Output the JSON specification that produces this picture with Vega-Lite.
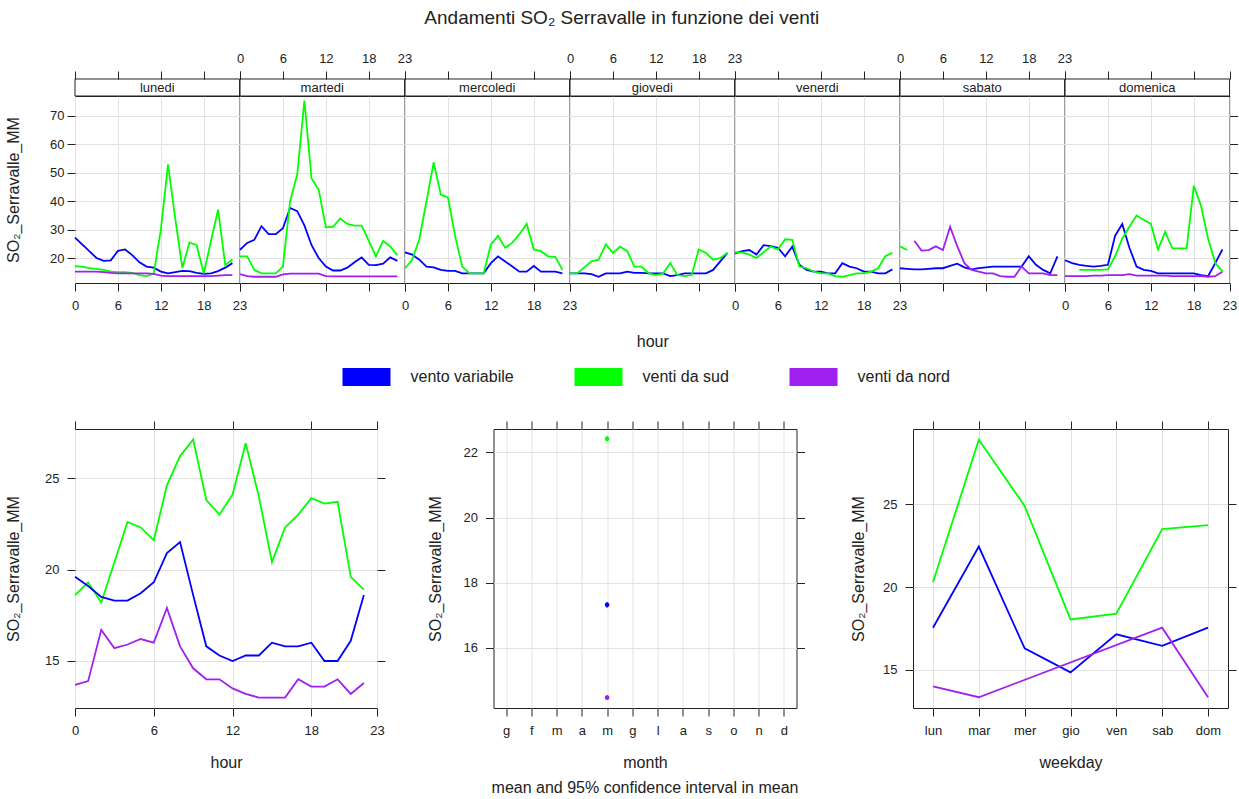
{
  "$schema": "https://vega.github.io/schema/vega-lite/v6.json",
  "background": "white",
  "padding": {"left": 5, "top": 8, "right": 2, "bottom": 2},
  "title": {"text": "Andamenti SO₂ Serravalle in funzione dei venti", "fontSize": 19, "fontWeight": "normal", "font": "Liberation Sans", "color": "#222", "offset": 24, "anchor": "middle"},
  "config": {
    "font": "Liberation Sans",
    "view": {"stroke": "#222", "strokeWidth": 1},
    "axis": {"labelFont": "Liberation Sans", "labelFontSize": 13, "labelColor": "#222", "titleFont": "Liberation Sans", "titleFontSize": 16, "titleFontWeight": "normal", "titleColor": "#222", "tickColor": "#222", "tickSize": 8, "domain": false, "gridColor": "#e2e2e2", "labelFlush": false, "labelOverlap": false, "labelBound": false}
  },
  "datasets": {
    "hourday": [
      {"day":"lunedi","hour":0,"series":"vento variabile","value":27.2},{"day":"lunedi","hour":1,"series":"vento variabile","value":24.8},{"day":"lunedi","hour":2,"series":"vento variabile","value":22.4},{"day":"lunedi","hour":3,"series":"vento variabile","value":20.0},{"day":"lunedi","hour":4,"series":"vento variabile","value":19.0},{"day":"lunedi","hour":5,"series":"vento variabile","value":19.2},{"day":"lunedi","hour":6,"series":"vento variabile","value":22.5},{"day":"lunedi","hour":7,"series":"vento variabile","value":23.0},{"day":"lunedi","hour":8,"series":"vento variabile","value":21.0},{"day":"lunedi","hour":9,"series":"vento variabile","value":18.5},{"day":"lunedi","hour":10,"series":"vento variabile","value":17.0},{"day":"lunedi","hour":11,"series":"vento variabile","value":16.6},{"day":"lunedi","hour":12,"series":"vento variabile","value":15.2},{"day":"lunedi","hour":13,"series":"vento variabile","value":14.6},{"day":"lunedi","hour":14,"series":"vento variabile","value":15.0},{"day":"lunedi","hour":15,"series":"vento variabile","value":15.5},{"day":"lunedi","hour":16,"series":"vento variabile","value":15.4},{"day":"lunedi","hour":17,"series":"vento variabile","value":14.8},{"day":"lunedi","hour":18,"series":"vento variabile","value":14.4},{"day":"lunedi","hour":19,"series":"vento variabile","value":14.6},{"day":"lunedi","hour":20,"series":"vento variabile","value":15.4},{"day":"lunedi","hour":21,"series":"vento variabile","value":16.6},{"day":"lunedi","hour":22,"series":"vento variabile","value":18.2},
      {"day":"lunedi","hour":0,"series":"venti da sud","value":17.1},{"day":"lunedi","hour":1,"series":"venti da sud","value":17.0},{"day":"lunedi","hour":2,"series":"venti da sud","value":16.4},{"day":"lunedi","hour":3,"series":"venti da sud","value":16.2},{"day":"lunedi","hour":4,"series":"venti da sud","value":15.8},{"day":"lunedi","hour":5,"series":"venti da sud","value":15.2},{"day":"lunedi","hour":6,"series":"venti da sud","value":15.0},{"day":"lunedi","hour":7,"series":"venti da sud","value":15.0},{"day":"lunedi","hour":8,"series":"venti da sud","value":14.8},{"day":"lunedi","hour":9,"series":"venti da sud","value":14.0},{"day":"lunedi","hour":10,"series":"venti da sud","value":13.6},{"day":"lunedi","hour":11,"series":"venti da sud","value":14.5},{"day":"lunedi","hour":12,"series":"venti da sud","value":30.0},{"day":"lunedi","hour":13,"series":"venti da sud","value":53.0},{"day":"lunedi","hour":14,"series":"venti da sud","value":34.0},{"day":"lunedi","hour":15,"series":"venti da sud","value":16.5},{"day":"lunedi","hour":16,"series":"venti da sud","value":25.5},{"day":"lunedi","hour":17,"series":"venti da sud","value":24.5},{"day":"lunedi","hour":18,"series":"venti da sud","value":14.5},{"day":"lunedi","hour":19,"series":"venti da sud","value":26.0},{"day":"lunedi","hour":20,"series":"venti da sud","value":37.0},{"day":"lunedi","hour":21,"series":"venti da sud","value":17.5},{"day":"lunedi","hour":22,"series":"venti da sud","value":19.5},
      {"day":"lunedi","hour":0,"series":"venti da nord","value":15.2},{"day":"lunedi","hour":1,"series":"venti da nord","value":15.2},{"day":"lunedi","hour":2,"series":"venti da nord","value":15.2},{"day":"lunedi","hour":3,"series":"venti da nord","value":15.2},{"day":"lunedi","hour":4,"series":"venti da nord","value":15.0},{"day":"lunedi","hour":5,"series":"venti da nord","value":14.8},{"day":"lunedi","hour":6,"series":"venti da nord","value":14.6},{"day":"lunedi","hour":7,"series":"venti da nord","value":14.6},{"day":"lunedi","hour":8,"series":"venti da nord","value":14.6},{"day":"lunedi","hour":9,"series":"venti da nord","value":14.6},{"day":"lunedi","hour":10,"series":"venti da nord","value":14.6},{"day":"lunedi","hour":11,"series":"venti da nord","value":14.4},{"day":"lunedi","hour":12,"series":"venti da nord","value":13.8},{"day":"lunedi","hour":13,"series":"venti da nord","value":13.6},{"day":"lunedi","hour":14,"series":"venti da nord","value":13.6},{"day":"lunedi","hour":15,"series":"venti da nord","value":13.6},{"day":"lunedi","hour":16,"series":"venti da nord","value":13.6},{"day":"lunedi","hour":17,"series":"venti da nord","value":13.6},{"day":"lunedi","hour":18,"series":"venti da nord","value":13.6},{"day":"lunedi","hour":19,"series":"venti da nord","value":13.6},{"day":"lunedi","hour":20,"series":"venti da nord","value":13.8},{"day":"lunedi","hour":21,"series":"venti da nord","value":14.0},{"day":"lunedi","hour":22,"series":"venti da nord","value":14.0},
      {"day":"martedi","hour":0,"series":"vento variabile","value":22.9},{"day":"martedi","hour":1,"series":"vento variabile","value":25.3},{"day":"martedi","hour":2,"series":"vento variabile","value":26.4},{"day":"martedi","hour":3,"series":"vento variabile","value":31.2},{"day":"martedi","hour":4,"series":"vento variabile","value":28.4},{"day":"martedi","hour":5,"series":"vento variabile","value":28.4},{"day":"martedi","hour":6,"series":"vento variabile","value":30.5},{"day":"martedi","hour":7,"series":"vento variabile","value":37.6},{"day":"martedi","hour":8,"series":"vento variabile","value":36.5},{"day":"martedi","hour":9,"series":"vento variabile","value":31.5},{"day":"martedi","hour":10,"series":"vento variabile","value":24.5},{"day":"martedi","hour":11,"series":"vento variabile","value":20.0},{"day":"martedi","hour":12,"series":"vento variabile","value":17.0},{"day":"martedi","hour":13,"series":"vento variabile","value":15.6},{"day":"martedi","hour":14,"series":"vento variabile","value":15.6},{"day":"martedi","hour":15,"series":"vento variabile","value":16.6},{"day":"martedi","hour":16,"series":"vento variabile","value":18.5},{"day":"martedi","hour":17,"series":"vento variabile","value":20.2},{"day":"martedi","hour":18,"series":"vento variabile","value":17.6},{"day":"martedi","hour":19,"series":"vento variabile","value":17.5},{"day":"martedi","hour":20,"series":"vento variabile","value":18.0},{"day":"martedi","hour":21,"series":"vento variabile","value":20.2},{"day":"martedi","hour":22,"series":"vento variabile","value":19.0},
      {"day":"martedi","hour":0,"series":"venti da sud","value":20.6},{"day":"martedi","hour":1,"series":"venti da sud","value":20.6},{"day":"martedi","hour":2,"series":"venti da sud","value":15.8},{"day":"martedi","hour":3,"series":"venti da sud","value":14.6},{"day":"martedi","hour":4,"series":"venti da sud","value":14.6},{"day":"martedi","hour":5,"series":"venti da sud","value":14.6},{"day":"martedi","hour":6,"series":"venti da sud","value":17.0},{"day":"martedi","hour":7,"series":"venti da sud","value":40.0},{"day":"martedi","hour":8,"series":"venti da sud","value":49.5},{"day":"martedi","hour":9,"series":"venti da sud","value":75.4},{"day":"martedi","hour":10,"series":"venti da sud","value":48.0},{"day":"martedi","hour":11,"series":"venti da sud","value":44.0},{"day":"martedi","hour":12,"series":"venti da sud","value":30.8},{"day":"martedi","hour":13,"series":"venti da sud","value":31.0},{"day":"martedi","hour":14,"series":"venti da sud","value":33.9},{"day":"martedi","hour":15,"series":"venti da sud","value":32.0},{"day":"martedi","hour":16,"series":"venti da sud","value":31.4},{"day":"martedi","hour":17,"series":"venti da sud","value":31.4},{"day":"martedi","hour":18,"series":"venti da sud","value":26.0},{"day":"martedi","hour":19,"series":"venti da sud","value":20.6},{"day":"martedi","hour":20,"series":"venti da sud","value":26.0},{"day":"martedi","hour":21,"series":"venti da sud","value":24.0},{"day":"martedi","hour":22,"series":"venti da sud","value":21.0},
      {"day":"martedi","hour":0,"series":"venti da nord","value":14.3},{"day":"martedi","hour":1,"series":"venti da nord","value":13.6},{"day":"martedi","hour":2,"series":"venti da nord","value":13.4},{"day":"martedi","hour":3,"series":"venti da nord","value":13.4},{"day":"martedi","hour":4,"series":"venti da nord","value":13.4},{"day":"martedi","hour":5,"series":"venti da nord","value":13.4},{"day":"martedi","hour":6,"series":"venti da nord","value":14.2},{"day":"martedi","hour":7,"series":"venti da nord","value":14.5},{"day":"martedi","hour":8,"series":"venti da nord","value":14.5},{"day":"martedi","hour":9,"series":"venti da nord","value":14.5},{"day":"martedi","hour":10,"series":"venti da nord","value":14.5},{"day":"martedi","hour":11,"series":"venti da nord","value":14.5},{"day":"martedi","hour":12,"series":"venti da nord","value":13.6},{"day":"martedi","hour":13,"series":"venti da nord","value":13.5},{"day":"martedi","hour":14,"series":"venti da nord","value":13.5},{"day":"martedi","hour":15,"series":"venti da nord","value":13.5},{"day":"martedi","hour":16,"series":"venti da nord","value":13.5},{"day":"martedi","hour":17,"series":"venti da nord","value":13.5},{"day":"martedi","hour":18,"series":"venti da nord","value":13.5},{"day":"martedi","hour":19,"series":"venti da nord","value":13.5},{"day":"martedi","hour":20,"series":"venti da nord","value":13.5},{"day":"martedi","hour":21,"series":"venti da nord","value":13.5},{"day":"martedi","hour":22,"series":"venti da nord","value":13.5},
      {"day":"mercoledi","hour":0,"series":"vento variabile","value":22.0},{"day":"mercoledi","hour":1,"series":"vento variabile","value":21.2},{"day":"mercoledi","hour":2,"series":"vento variabile","value":19.4},{"day":"mercoledi","hour":3,"series":"vento variabile","value":17.0},{"day":"mercoledi","hour":4,"series":"vento variabile","value":16.7},{"day":"mercoledi","hour":5,"series":"vento variabile","value":15.8},{"day":"mercoledi","hour":6,"series":"vento variabile","value":15.5},{"day":"mercoledi","hour":7,"series":"vento variabile","value":15.5},{"day":"mercoledi","hour":8,"series":"vento variabile","value":14.6},{"day":"mercoledi","hour":9,"series":"vento variabile","value":14.6},{"day":"mercoledi","hour":10,"series":"vento variabile","value":14.6},{"day":"mercoledi","hour":11,"series":"vento variabile","value":14.6},{"day":"mercoledi","hour":12,"series":"vento variabile","value":18.2},{"day":"mercoledi","hour":13,"series":"vento variabile","value":20.6},{"day":"mercoledi","hour":14,"series":"vento variabile","value":18.8},{"day":"mercoledi","hour":15,"series":"vento variabile","value":17.0},{"day":"mercoledi","hour":16,"series":"vento variabile","value":15.2},{"day":"mercoledi","hour":17,"series":"vento variabile","value":15.2},{"day":"mercoledi","hour":18,"series":"vento variabile","value":17.2},{"day":"mercoledi","hour":19,"series":"vento variabile","value":15.2},{"day":"mercoledi","hour":20,"series":"vento variabile","value":15.2},{"day":"mercoledi","hour":21,"series":"vento variabile","value":15.2},{"day":"mercoledi","hour":22,"series":"vento variabile","value":14.6},
      {"day":"mercoledi","hour":0,"series":"venti da sud","value":16.4},{"day":"mercoledi","hour":1,"series":"venti da sud","value":19.4},{"day":"mercoledi","hour":2,"series":"venti da sud","value":26.6},{"day":"mercoledi","hour":3,"series":"venti da sud","value":39.9},{"day":"mercoledi","hour":4,"series":"venti da sud","value":53.7},{"day":"mercoledi","hour":5,"series":"venti da sud","value":42.3},{"day":"mercoledi","hour":6,"series":"venti da sud","value":41.3},{"day":"mercoledi","hour":7,"series":"venti da sud","value":27.8},{"day":"mercoledi","hour":8,"series":"venti da sud","value":17.0},{"day":"mercoledi","hour":9,"series":"venti da sud","value":14.6},{"day":"mercoledi","hour":10,"series":"venti da sud","value":14.6},{"day":"mercoledi","hour":11,"series":"venti da sud","value":14.6},{"day":"mercoledi","hour":12,"series":"venti da sud","value":24.8},{"day":"mercoledi","hour":13,"series":"venti da sud","value":27.8},{"day":"mercoledi","hour":14,"series":"venti da sud","value":23.6},{"day":"mercoledi","hour":15,"series":"venti da sud","value":25.4},{"day":"mercoledi","hour":16,"series":"venti da sud","value":28.4},{"day":"mercoledi","hour":17,"series":"venti da sud","value":32.0},{"day":"mercoledi","hour":18,"series":"venti da sud","value":23.0},{"day":"mercoledi","hour":19,"series":"venti da sud","value":22.4},{"day":"mercoledi","hour":20,"series":"venti da sud","value":20.6},{"day":"mercoledi","hour":21,"series":"venti da sud","value":20.4},{"day":"mercoledi","hour":22,"series":"venti da sud","value":15.8},
      {"day":"giovedi","hour":0,"series":"vento variabile","value":14.6},{"day":"giovedi","hour":1,"series":"vento variabile","value":14.6},{"day":"giovedi","hour":2,"series":"vento variabile","value":14.6},{"day":"giovedi","hour":3,"series":"vento variabile","value":14.3},{"day":"giovedi","hour":4,"series":"vento variabile","value":13.4},{"day":"giovedi","hour":5,"series":"vento variabile","value":14.6},{"day":"giovedi","hour":6,"series":"vento variabile","value":14.6},{"day":"giovedi","hour":7,"series":"vento variabile","value":14.6},{"day":"giovedi","hour":8,"series":"vento variabile","value":15.2},{"day":"giovedi","hour":9,"series":"vento variabile","value":14.8},{"day":"giovedi","hour":10,"series":"vento variabile","value":14.8},{"day":"giovedi","hour":11,"series":"vento variabile","value":14.6},{"day":"giovedi","hour":12,"series":"vento variabile","value":14.6},{"day":"giovedi","hour":13,"series":"vento variabile","value":14.6},{"day":"giovedi","hour":14,"series":"vento variabile","value":13.6},{"day":"giovedi","hour":15,"series":"vento variabile","value":14.0},{"day":"giovedi","hour":16,"series":"vento variabile","value":14.6},{"day":"giovedi","hour":17,"series":"vento variabile","value":14.6},{"day":"giovedi","hour":18,"series":"vento variabile","value":14.6},{"day":"giovedi","hour":19,"series":"vento variabile","value":14.6},{"day":"giovedi","hour":20,"series":"vento variabile","value":15.8},{"day":"giovedi","hour":21,"series":"vento variabile","value":18.8},{"day":"giovedi","hour":22,"series":"vento variabile","value":21.8},
      {"day":"giovedi","hour":0,"series":"venti da sud","value":14.6},{"day":"giovedi","hour":1,"series":"venti da sud","value":14.6},{"day":"giovedi","hour":2,"series":"venti da sud","value":16.7},{"day":"giovedi","hour":3,"series":"venti da sud","value":18.8},{"day":"giovedi","hour":4,"series":"venti da sud","value":19.4},{"day":"giovedi","hour":5,"series":"venti da sud","value":24.8},{"day":"giovedi","hour":6,"series":"venti da sud","value":21.8},{"day":"giovedi","hour":7,"series":"venti da sud","value":24.0},{"day":"giovedi","hour":8,"series":"venti da sud","value":22.4},{"day":"giovedi","hour":9,"series":"venti da sud","value":17.0},{"day":"giovedi","hour":10,"series":"venti da sud","value":17.0},{"day":"giovedi","hour":11,"series":"venti da sud","value":14.6},{"day":"giovedi","hour":12,"series":"venti da sud","value":14.0},{"day":"giovedi","hour":13,"series":"venti da sud","value":14.5},{"day":"giovedi","hour":14,"series":"venti da sud","value":18.2},{"day":"giovedi","hour":15,"series":"venti da sud","value":14.0},{"day":"giovedi","hour":16,"series":"venti da sud","value":13.6},{"day":"giovedi","hour":17,"series":"venti da sud","value":14.0},{"day":"giovedi","hour":18,"series":"venti da sud","value":23.0},{"day":"giovedi","hour":19,"series":"venti da sud","value":21.8},{"day":"giovedi","hour":20,"series":"venti da sud","value":19.4},{"day":"giovedi","hour":21,"series":"venti da sud","value":20.0},{"day":"giovedi","hour":22,"series":"venti da sud","value":21.8},
      {"day":"venerdi","hour":0,"series":"vento variabile","value":21.6},{"day":"venerdi","hour":1,"series":"vento variabile","value":22.4},{"day":"venerdi","hour":2,"series":"vento variabile","value":22.8},{"day":"venerdi","hour":3,"series":"vento variabile","value":21.2},{"day":"venerdi","hour":4,"series":"vento variabile","value":24.5},{"day":"venerdi","hour":5,"series":"vento variabile","value":24.2},{"day":"venerdi","hour":6,"series":"vento variabile","value":23.6},{"day":"venerdi","hour":7,"series":"vento variabile","value":20.6},{"day":"venerdi","hour":8,"series":"vento variabile","value":24.0},{"day":"venerdi","hour":9,"series":"vento variabile","value":17.6},{"day":"venerdi","hour":10,"series":"vento variabile","value":15.8},{"day":"venerdi","hour":11,"series":"vento variabile","value":15.2},{"day":"venerdi","hour":12,"series":"vento variabile","value":15.2},{"day":"venerdi","hour":13,"series":"vento variabile","value":14.6},{"day":"venerdi","hour":14,"series":"vento variabile","value":14.6},{"day":"venerdi","hour":15,"series":"vento variabile","value":18.2},{"day":"venerdi","hour":16,"series":"vento variabile","value":17.0},{"day":"venerdi","hour":17,"series":"vento variabile","value":16.4},{"day":"venerdi","hour":18,"series":"vento variabile","value":15.2},{"day":"venerdi","hour":19,"series":"vento variabile","value":15.2},{"day":"venerdi","hour":20,"series":"vento variabile","value":14.6},{"day":"venerdi","hour":21,"series":"vento variabile","value":14.6},{"day":"venerdi","hour":22,"series":"vento variabile","value":16.0},
      {"day":"venerdi","hour":0,"series":"venti da sud","value":22.0},{"day":"venerdi","hour":1,"series":"venti da sud","value":22.0},{"day":"venerdi","hour":2,"series":"venti da sud","value":21.2},{"day":"venerdi","hour":3,"series":"venti da sud","value":20.0},{"day":"venerdi","hour":4,"series":"venti da sud","value":22.0},{"day":"venerdi","hour":5,"series":"venti da sud","value":24.0},{"day":"venerdi","hour":6,"series":"venti da sud","value":23.0},{"day":"venerdi","hour":7,"series":"venti da sud","value":26.6},{"day":"venerdi","hour":8,"series":"venti da sud","value":26.4},{"day":"venerdi","hour":9,"series":"venti da sud","value":17.0},{"day":"venerdi","hour":10,"series":"venti da sud","value":16.4},{"day":"venerdi","hour":11,"series":"venti da sud","value":15.2},{"day":"venerdi","hour":12,"series":"venti da sud","value":14.6},{"day":"venerdi","hour":13,"series":"venti da sud","value":14.6},{"day":"venerdi","hour":14,"series":"venti da sud","value":13.6},{"day":"venerdi","hour":15,"series":"venti da sud","value":13.4},{"day":"venerdi","hour":16,"series":"venti da sud","value":14.0},{"day":"venerdi","hour":17,"series":"venti da sud","value":14.6},{"day":"venerdi","hour":18,"series":"venti da sud","value":14.6},{"day":"venerdi","hour":19,"series":"venti da sud","value":15.2},{"day":"venerdi","hour":20,"series":"venti da sud","value":16.4},{"day":"venerdi","hour":21,"series":"venti da sud","value":20.6},{"day":"venerdi","hour":22,"series":"venti da sud","value":21.8},
      {"day":"sabato","hour":0,"series":"vento variabile","value":16.4},{"day":"sabato","hour":1,"series":"vento variabile","value":16.2},{"day":"sabato","hour":2,"series":"vento variabile","value":16.0},{"day":"sabato","hour":3,"series":"vento variabile","value":16.0},{"day":"sabato","hour":4,"series":"vento variabile","value":16.2},{"day":"sabato","hour":5,"series":"vento variabile","value":16.4},{"day":"sabato","hour":6,"series":"vento variabile","value":16.4},{"day":"sabato","hour":7,"series":"vento variabile","value":17.2},{"day":"sabato","hour":8,"series":"vento variabile","value":18.0},{"day":"sabato","hour":9,"series":"vento variabile","value":16.7},{"day":"sabato","hour":10,"series":"vento variabile","value":16.0},{"day":"sabato","hour":11,"series":"vento variabile","value":16.4},{"day":"sabato","hour":12,"series":"vento variabile","value":16.7},{"day":"sabato","hour":13,"series":"vento variabile","value":17.0},{"day":"sabato","hour":14,"series":"vento variabile","value":17.0},{"day":"sabato","hour":15,"series":"vento variabile","value":17.0},{"day":"sabato","hour":16,"series":"vento variabile","value":17.0},{"day":"sabato","hour":17,"series":"vento variabile","value":17.0},{"day":"sabato","hour":18,"series":"vento variabile","value":20.6},{"day":"sabato","hour":19,"series":"vento variabile","value":17.6},{"day":"sabato","hour":20,"series":"vento variabile","value":15.8},{"day":"sabato","hour":21,"series":"vento variabile","value":14.6},{"day":"sabato","hour":22,"series":"vento variabile","value":20.6},
      {"day":"sabato","hour":0,"series":"venti da sud","value":24.1},{"day":"sabato","hour":1,"series":"venti da sud","value":22.8},
      {"day":"sabato","hour":2,"series":"venti da nord","value":26.1},{"day":"sabato","hour":3,"series":"venti da nord","value":22.6},{"day":"sabato","hour":4,"series":"venti da nord","value":22.8},{"day":"sabato","hour":5,"series":"venti da nord","value":24.1},{"day":"sabato","hour":6,"series":"venti da nord","value":22.8},{"day":"sabato","hour":7,"series":"venti da nord","value":31.0},{"day":"sabato","hour":8,"series":"venti da nord","value":24.2},{"day":"sabato","hour":9,"series":"venti da nord","value":18.2},{"day":"sabato","hour":10,"series":"venti da nord","value":15.8},{"day":"sabato","hour":11,"series":"venti da nord","value":15.2},{"day":"sabato","hour":12,"series":"venti da nord","value":14.6},{"day":"sabato","hour":13,"series":"venti da nord","value":14.6},{"day":"sabato","hour":14,"series":"venti da nord","value":13.6},{"day":"sabato","hour":15,"series":"venti da nord","value":13.4},{"day":"sabato","hour":16,"series":"venti da nord","value":13.4},{"day":"sabato","hour":17,"series":"venti da nord","value":17.0},{"day":"sabato","hour":18,"series":"venti da nord","value":14.6},{"day":"sabato","hour":19,"series":"venti da nord","value":14.6},{"day":"sabato","hour":20,"series":"venti da nord","value":14.6},{"day":"sabato","hour":21,"series":"venti da nord","value":14.0},{"day":"sabato","hour":22,"series":"venti da nord","value":14.0},
      {"day":"domenica","hour":0,"series":"vento variabile","value":19.2},{"day":"domenica","hour":1,"series":"vento variabile","value":18.2},{"day":"domenica","hour":2,"series":"vento variabile","value":17.6},{"day":"domenica","hour":3,"series":"vento variabile","value":17.2},{"day":"domenica","hour":4,"series":"vento variabile","value":17.0},{"day":"domenica","hour":5,"series":"vento variabile","value":17.2},{"day":"domenica","hour":6,"series":"vento variabile","value":17.6},{"day":"domenica","hour":7,"series":"vento variabile","value":27.8},{"day":"domenica","hour":8,"series":"vento variabile","value":32.0},{"day":"domenica","hour":9,"series":"vento variabile","value":23.6},{"day":"domenica","hour":10,"series":"vento variabile","value":17.0},{"day":"domenica","hour":11,"series":"vento variabile","value":15.8},{"day":"domenica","hour":12,"series":"vento variabile","value":15.5},{"day":"domenica","hour":13,"series":"vento variabile","value":14.6},{"day":"domenica","hour":14,"series":"vento variabile","value":14.6},{"day":"domenica","hour":15,"series":"vento variabile","value":14.6},{"day":"domenica","hour":16,"series":"vento variabile","value":14.6},{"day":"domenica","hour":17,"series":"vento variabile","value":14.6},{"day":"domenica","hour":18,"series":"vento variabile","value":14.6},{"day":"domenica","hour":19,"series":"vento variabile","value":14.0},{"day":"domenica","hour":20,"series":"vento variabile","value":13.6},{"day":"domenica","hour":21,"series":"vento variabile","value":18.2},{"day":"domenica","hour":22,"series":"vento variabile","value":23.0},
      {"day":"domenica","hour":2,"series":"venti da sud","value":15.8},{"day":"domenica","hour":3,"series":"venti da sud","value":15.8},{"day":"domenica","hour":4,"series":"venti da sud","value":15.8},{"day":"domenica","hour":5,"series":"venti da sud","value":15.8},{"day":"domenica","hour":6,"series":"venti da sud","value":16.0},{"day":"domenica","hour":7,"series":"venti da sud","value":20.6},{"day":"domenica","hour":8,"series":"venti da sud","value":26.8},{"day":"domenica","hour":9,"series":"venti da sud","value":31.0},{"day":"domenica","hour":10,"series":"venti da sud","value":35.0},{"day":"domenica","hour":11,"series":"venti da sud","value":33.5},{"day":"domenica","hour":12,"series":"venti da sud","value":32.0},{"day":"domenica","hour":13,"series":"venti da sud","value":23.0},{"day":"domenica","hour":14,"series":"venti da sud","value":29.2},{"day":"domenica","hour":15,"series":"venti da sud","value":23.4},{"day":"domenica","hour":16,"series":"venti da sud","value":23.4},{"day":"domenica","hour":17,"series":"venti da sud","value":23.4},{"day":"domenica","hour":18,"series":"venti da sud","value":45.4},{"day":"domenica","hour":19,"series":"venti da sud","value":38.5},{"day":"domenica","hour":20,"series":"venti da sud","value":26.8},{"day":"domenica","hour":21,"series":"venti da sud","value":18.2},{"day":"domenica","hour":22,"series":"venti da sud","value":15.3},
      {"day":"domenica","hour":0,"series":"venti da nord","value":13.6},{"day":"domenica","hour":1,"series":"venti da nord","value":13.6},{"day":"domenica","hour":2,"series":"venti da nord","value":13.6},{"day":"domenica","hour":3,"series":"venti da nord","value":13.6},{"day":"domenica","hour":4,"series":"venti da nord","value":13.8},{"day":"domenica","hour":5,"series":"venti da nord","value":13.8},{"day":"domenica","hour":6,"series":"venti da nord","value":14.0},{"day":"domenica","hour":7,"series":"venti da nord","value":14.0},{"day":"domenica","hour":8,"series":"venti da nord","value":14.0},{"day":"domenica","hour":9,"series":"venti da nord","value":14.3},{"day":"domenica","hour":10,"series":"venti da nord","value":13.8},{"day":"domenica","hour":11,"series":"venti da nord","value":13.8},{"day":"domenica","hour":12,"series":"venti da nord","value":13.8},{"day":"domenica","hour":13,"series":"venti da nord","value":13.8},{"day":"domenica","hour":14,"series":"venti da nord","value":13.8},{"day":"domenica","hour":15,"series":"venti da nord","value":13.6},{"day":"domenica","hour":16,"series":"venti da nord","value":13.6},{"day":"domenica","hour":17,"series":"venti da nord","value":13.6},{"day":"domenica","hour":18,"series":"venti da nord","value":13.6},{"day":"domenica","hour":19,"series":"venti da nord","value":13.6},{"day":"domenica","hour":20,"series":"venti da nord","value":13.4},{"day":"domenica","hour":21,"series":"venti da nord","value":13.6},{"day":"domenica","hour":22,"series":"venti da nord","value":15.2}
    ],
    "hour": [
      {"hour":0,"series":"venti da sud","value":18.6},{"hour":1,"series":"venti da sud","value":19.3},{"hour":2,"series":"venti da sud","value":18.2},{"hour":3,"series":"venti da sud","value":20.4},{"hour":4,"series":"venti da sud","value":22.6},{"hour":5,"series":"venti da sud","value":22.3},{"hour":6,"series":"venti da sud","value":21.6},{"hour":7,"series":"venti da sud","value":24.6},{"hour":8,"series":"venti da sud","value":26.2},{"hour":9,"series":"venti da sud","value":27.1},{"hour":10,"series":"venti da sud","value":23.8},{"hour":11,"series":"venti da sud","value":23.0},{"hour":12,"series":"venti da sud","value":24.1},{"hour":13,"series":"venti da sud","value":26.9},{"hour":14,"series":"venti da sud","value":24.0},{"hour":15,"series":"venti da sud","value":20.4},{"hour":16,"series":"venti da sud","value":22.3},{"hour":17,"series":"venti da sud","value":23.0},{"hour":18,"series":"venti da sud","value":23.9},{"hour":19,"series":"venti da sud","value":23.6},{"hour":20,"series":"venti da sud","value":23.7},{"hour":21,"series":"venti da sud","value":19.6},{"hour":22,"series":"venti da sud","value":18.9},
      {"hour":0,"series":"vento variabile","value":19.6},{"hour":1,"series":"vento variabile","value":19.1},{"hour":2,"series":"vento variabile","value":18.5},{"hour":3,"series":"vento variabile","value":18.3},{"hour":4,"series":"vento variabile","value":18.3},{"hour":5,"series":"vento variabile","value":18.7},{"hour":6,"series":"vento variabile","value":19.3},{"hour":7,"series":"vento variabile","value":20.9},{"hour":8,"series":"vento variabile","value":21.5},{"hour":9,"series":"vento variabile","value":18.6},{"hour":10,"series":"vento variabile","value":15.8},{"hour":11,"series":"vento variabile","value":15.3},{"hour":12,"series":"vento variabile","value":15.0},{"hour":13,"series":"vento variabile","value":15.3},{"hour":14,"series":"vento variabile","value":15.3},{"hour":15,"series":"vento variabile","value":16.0},{"hour":16,"series":"vento variabile","value":15.8},{"hour":17,"series":"vento variabile","value":15.8},{"hour":18,"series":"vento variabile","value":16.0},{"hour":19,"series":"vento variabile","value":15.0},{"hour":20,"series":"vento variabile","value":15.0},{"hour":21,"series":"vento variabile","value":16.1},{"hour":22,"series":"vento variabile","value":18.6},
      {"hour":0,"series":"venti da nord","value":13.7},{"hour":1,"series":"venti da nord","value":13.9},{"hour":2,"series":"venti da nord","value":16.7},{"hour":3,"series":"venti da nord","value":15.7},{"hour":4,"series":"venti da nord","value":15.9},{"hour":5,"series":"venti da nord","value":16.2},{"hour":6,"series":"venti da nord","value":16.0},{"hour":7,"series":"venti da nord","value":17.9},{"hour":8,"series":"venti da nord","value":15.8},{"hour":9,"series":"venti da nord","value":14.6},{"hour":10,"series":"venti da nord","value":14.0},{"hour":11,"series":"venti da nord","value":14.0},{"hour":12,"series":"venti da nord","value":13.5},{"hour":13,"series":"venti da nord","value":13.2},{"hour":14,"series":"venti da nord","value":13.0},{"hour":15,"series":"venti da nord","value":13.0},{"hour":16,"series":"venti da nord","value":13.0},{"hour":17,"series":"venti da nord","value":14.0},{"hour":18,"series":"venti da nord","value":13.6},{"hour":19,"series":"venti da nord","value":13.6},{"hour":20,"series":"venti da nord","value":14.0},{"hour":21,"series":"venti da nord","value":13.2},{"hour":22,"series":"venti da nord","value":13.8}
    ],
    "month": [
      {"month":5,"series":"venti da sud","value":22.42,"lower":22.34,"upper":22.50},
      {"month":5,"series":"vento variabile","value":17.32,"lower":17.24,"upper":17.40},
      {"month":5,"series":"venti da nord","value":14.47,"lower":14.40,"upper":14.54}
    ],
    "weekday": [
      {"weekday":"lun","series":"venti da sud","value":20.3},{"weekday":"mar","series":"venti da sud","value":28.9},{"weekday":"mer","series":"venti da sud","value":24.9},{"weekday":"gio","series":"venti da sud","value":18.05},{"weekday":"ven","series":"venti da sud","value":18.4},{"weekday":"sab","series":"venti da sud","value":23.5},{"weekday":"dom","series":"venti da sud","value":23.75},
      {"weekday":"lun","series":"vento variabile","value":17.55},{"weekday":"mar","series":"vento variabile","value":22.45},{"weekday":"mer","series":"vento variabile","value":16.3},{"weekday":"gio","series":"vento variabile","value":14.85},{"weekday":"ven","series":"vento variabile","value":17.15},{"weekday":"sab","series":"vento variabile","value":16.45},{"weekday":"dom","series":"vento variabile","value":17.55},
      {"weekday":"lun","series":"venti da nord","value":14.0},{"weekday":"mar","series":"venti da nord","value":13.35},{"weekday":"sab","series":"venti da nord","value":17.55},{"weekday":"dom","series":"venti da nord","value":13.35}
    ]
  },
  "spacing": 2,
  "resolve": {"legend": {"color": "independent"}},
  "vconcat": [
    {
      "hconcat": [
        {"width": 164.571, "height": 187, "resolve": {"axis": {"x": "independent", "y": "independent"}}, "layer": [
          {"data": {"name": "hourday"}, "transform": [{"filter": {"field": "day", "equal": "lunedi"}}], "mark": {"type": "line", "strokeWidth": 1.8},
           "encoding": {"x": {"field": "hour", "type": "quantitative", "scale": {"domain": [0, 23], "nice": false}, "axis": {"values": [0, 6, 12, 18, 23], "grid": true, "labelPadding": 8, "title": null}},
             "y": {"field": "value", "type": "quantitative", "scale": {"domain": [11.2, 77.04], "nice": false, "zero": false}, "axis": {"values": [20, 30, 40, 50, 60, 70], "grid": true, "labelPadding": 3, "title": "SO₂_Serravalle_MM", "titlePadding": 28}},
             "color": {"field": "series", "type": "nominal", "scale": {"domain": ["vento variabile", "venti da sud", "venti da nord"], "range": ["#0000FF", "#00FF00", "#A020F0"]}, "legend": null}}},
          {"data": {"values": [{"day": "lunedi"}]}, "mark": {"type": "rect", "filled": false, "stroke": "#222", "strokeWidth": 1},
           "encoding": {"x": {"datum": 0, "type": "quantitative", "scale": {"domain": [0, 23], "nice": false}, "axis": {"orient": "top", "offset": 17, "values": [0, 6, 12, 18, 23], "labels": false, "grid": false, "title": null}}, "x2": {"datum": 23},
             "y": {"datum": 77.04, "type": "quantitative", "scale": {"domain": [11.2, 77.04], "nice": false, "zero": false}, "axis": null}, "y2": {"datum": 83.03}}},
          {"data": {"values": [{"day": "lunedi"}]}, "mark": {"type": "text", "fontSize": 13, "color": "#222", "baseline": "middle", "align": "center"},
           "encoding": {"y": {"datum": 80.03, "type": "quantitative", "axis": null}, "text": {"field": "day", "type": "nominal"}}}
        ]},
        {"width": 164.571, "height": 187, "resolve": {"axis": {"x": "independent", "y": "independent"}}, "layer": [
          {"data": {"name": "hourday"}, "transform": [{"filter": {"field": "day", "equal": "martedi"}}], "mark": {"type": "line", "strokeWidth": 1.8},
           "encoding": {"x": {"field": "hour", "type": "quantitative", "scale": {"domain": [0, 23], "nice": false}, "axis": {"values": [0, 6, 12, 18, 23], "grid": true, "labels": false, "title": null}},
             "y": {"field": "value", "type": "quantitative", "scale": {"domain": [11.2, 77.04], "nice": false, "zero": false}, "axis": {"values": [20, 30, 40, 50, 60, 70], "grid": true, "labels": false, "ticks": false, "title": null}},
             "color": {"field": "series", "type": "nominal", "scale": {"domain": ["vento variabile", "venti da sud", "venti da nord"], "range": ["#0000FF", "#00FF00", "#A020F0"]}, "legend": null}}},
          {"data": {"values": [{"day": "martedi"}]}, "mark": {"type": "rect", "filled": false, "stroke": "#222", "strokeWidth": 1},
           "encoding": {"x": {"datum": 0, "type": "quantitative", "scale": {"domain": [0, 23], "nice": false}, "axis": {"orient": "top", "offset": 17, "values": [0, 6, 12, 18, 23], "labels": true, "labelPadding": 6, "grid": false, "title": null}}, "x2": {"datum": 23},
             "y": {"datum": 77.04, "type": "quantitative", "scale": {"domain": [11.2, 77.04], "nice": false, "zero": false}, "axis": null}, "y2": {"datum": 83.03}}},
          {"data": {"values": [{"day": "martedi"}]}, "mark": {"type": "text", "fontSize": 13, "color": "#222", "baseline": "middle", "align": "center"},
           "encoding": {"y": {"datum": 80.03, "type": "quantitative", "axis": null}, "text": {"field": "day", "type": "nominal"}}}
        ]},
        {"width": 164.571, "height": 187, "resolve": {"axis": {"x": "independent", "y": "independent"}}, "layer": [
          {"data": {"name": "hourday"}, "transform": [{"filter": {"field": "day", "equal": "mercoledi"}}], "mark": {"type": "line", "strokeWidth": 1.8},
           "encoding": {"x": {"field": "hour", "type": "quantitative", "scale": {"domain": [0, 23], "nice": false}, "axis": {"values": [0, 6, 12, 18, 23], "grid": true, "labelPadding": 8, "title": null}},
             "y": {"field": "value", "type": "quantitative", "scale": {"domain": [11.2, 77.04], "nice": false, "zero": false}, "axis": {"values": [20, 30, 40, 50, 60, 70], "grid": true, "labels": false, "ticks": false, "title": null}},
             "color": {"field": "series", "type": "nominal", "scale": {"domain": ["vento variabile", "venti da sud", "venti da nord"], "range": ["#0000FF", "#00FF00", "#A020F0"]}, "legend": null}}},
          {"data": {"values": [{"day": "mercoledi"}]}, "mark": {"type": "rect", "filled": false, "stroke": "#222", "strokeWidth": 1},
           "encoding": {"x": {"datum": 0, "type": "quantitative", "scale": {"domain": [0, 23], "nice": false}, "axis": {"orient": "top", "offset": 17, "values": [0, 6, 12, 18, 23], "labels": false, "grid": false, "title": null}}, "x2": {"datum": 23},
             "y": {"datum": 77.04, "type": "quantitative", "scale": {"domain": [11.2, 77.04], "nice": false, "zero": false}, "axis": null}, "y2": {"datum": 83.03}}},
          {"data": {"values": [{"day": "mercoledi"}]}, "mark": {"type": "text", "fontSize": 13, "color": "#222", "baseline": "middle", "align": "center"},
           "encoding": {"y": {"datum": 80.03, "type": "quantitative", "axis": null}, "text": {"field": "day", "type": "nominal"}}}
        ]},
        {"width": 164.571, "height": 187, "resolve": {"axis": {"x": "independent", "y": "independent"}}, "layer": [
          {"data": {"name": "hourday"}, "transform": [{"filter": {"field": "day", "equal": "giovedi"}}], "mark": {"type": "line", "strokeWidth": 1.8},
           "encoding": {"x": {"field": "hour", "type": "quantitative", "scale": {"domain": [0, 23], "nice": false}, "axis": {"values": [0, 6, 12, 18, 23], "grid": true, "labels": false, "title": "hour", "titlePadding": 42}},
             "y": {"field": "value", "type": "quantitative", "scale": {"domain": [11.2, 77.04], "nice": false, "zero": false}, "axis": {"values": [20, 30, 40, 50, 60, 70], "grid": true, "labels": false, "ticks": false, "title": null}},
             "color": {"field": "series", "type": "nominal", "scale": {"domain": ["vento variabile", "venti da sud", "venti da nord"], "range": ["#0000FF", "#00FF00", "#A020F0"]}, "legend": null}}},
          {"data": {"values": [{"day": "giovedi"}]}, "mark": {"type": "rect", "filled": false, "stroke": "#222", "strokeWidth": 1},
           "encoding": {"x": {"datum": 0, "type": "quantitative", "scale": {"domain": [0, 23], "nice": false}, "axis": {"orient": "top", "offset": 17, "values": [0, 6, 12, 18, 23], "labels": true, "labelPadding": 6, "grid": false, "title": null}}, "x2": {"datum": 23},
             "y": {"datum": 77.04, "type": "quantitative", "scale": {"domain": [11.2, 77.04], "nice": false, "zero": false}, "axis": null}, "y2": {"datum": 83.03}}},
          {"data": {"values": [{"day": "giovedi"}]}, "mark": {"type": "text", "fontSize": 13, "color": "#222", "baseline": "middle", "align": "center"},
           "encoding": {"y": {"datum": 80.03, "type": "quantitative", "axis": null}, "text": {"field": "day", "type": "nominal"}}}
        ]},
        {"width": 164.571, "height": 187, "resolve": {"axis": {"x": "independent", "y": "independent"}}, "layer": [
          {"data": {"name": "hourday"}, "transform": [{"filter": {"field": "day", "equal": "venerdi"}}], "mark": {"type": "line", "strokeWidth": 1.8},
           "encoding": {"x": {"field": "hour", "type": "quantitative", "scale": {"domain": [0, 23], "nice": false}, "axis": {"values": [0, 6, 12, 18, 23], "grid": true, "labelPadding": 8, "title": null}},
             "y": {"field": "value", "type": "quantitative", "scale": {"domain": [11.2, 77.04], "nice": false, "zero": false}, "axis": {"values": [20, 30, 40, 50, 60, 70], "grid": true, "labels": false, "ticks": false, "title": null}},
             "color": {"field": "series", "type": "nominal", "scale": {"domain": ["vento variabile", "venti da sud", "venti da nord"], "range": ["#0000FF", "#00FF00", "#A020F0"]}, "legend": null}}},
          {"data": {"values": [{"day": "venerdi"}]}, "mark": {"type": "rect", "filled": false, "stroke": "#222", "strokeWidth": 1},
           "encoding": {"x": {"datum": 0, "type": "quantitative", "scale": {"domain": [0, 23], "nice": false}, "axis": {"orient": "top", "offset": 17, "values": [0, 6, 12, 18, 23], "labels": false, "grid": false, "title": null}}, "x2": {"datum": 23},
             "y": {"datum": 77.04, "type": "quantitative", "scale": {"domain": [11.2, 77.04], "nice": false, "zero": false}, "axis": null}, "y2": {"datum": 83.03}}},
          {"data": {"values": [{"day": "venerdi"}]}, "mark": {"type": "text", "fontSize": 13, "color": "#222", "baseline": "middle", "align": "center"},
           "encoding": {"y": {"datum": 80.03, "type": "quantitative", "axis": null}, "text": {"field": "day", "type": "nominal"}}}
        ]},
        {"width": 164.571, "height": 187, "resolve": {"axis": {"x": "independent", "y": "independent"}}, "layer": [
          {"data": {"name": "hourday"}, "transform": [{"filter": {"field": "day", "equal": "sabato"}}], "mark": {"type": "line", "strokeWidth": 1.8},
           "encoding": {"x": {"field": "hour", "type": "quantitative", "scale": {"domain": [0, 23], "nice": false}, "axis": {"values": [0, 6, 12, 18, 23], "grid": true, "labels": false, "title": null}},
             "y": {"field": "value", "type": "quantitative", "scale": {"domain": [11.2, 77.04], "nice": false, "zero": false}, "axis": {"values": [20, 30, 40, 50, 60, 70], "grid": true, "labels": false, "ticks": false, "title": null}},
             "color": {"field": "series", "type": "nominal", "scale": {"domain": ["vento variabile", "venti da sud", "venti da nord"], "range": ["#0000FF", "#00FF00", "#A020F0"]}, "legend": null}}},
          {"data": {"values": [{"day": "sabato"}]}, "mark": {"type": "rect", "filled": false, "stroke": "#222", "strokeWidth": 1},
           "encoding": {"x": {"datum": 0, "type": "quantitative", "scale": {"domain": [0, 23], "nice": false}, "axis": {"orient": "top", "offset": 17, "values": [0, 6, 12, 18, 23], "labels": true, "labelPadding": 6, "grid": false, "title": null}}, "x2": {"datum": 23},
             "y": {"datum": 77.04, "type": "quantitative", "scale": {"domain": [11.2, 77.04], "nice": false, "zero": false}, "axis": null}, "y2": {"datum": 83.03}}},
          {"data": {"values": [{"day": "sabato"}]}, "mark": {"type": "text", "fontSize": 13, "color": "#222", "baseline": "middle", "align": "center"},
           "encoding": {"y": {"datum": 80.03, "type": "quantitative", "axis": null}, "text": {"field": "day", "type": "nominal"}}}
        ]},
        {"width": 164.571, "height": 187, "resolve": {"axis": {"x": "independent", "y": "independent"}}, "layer": [
          {"data": {"name": "hourday"}, "transform": [{"filter": {"field": "day", "equal": "domenica"}}], "mark": {"type": "line", "strokeWidth": 1.8},
           "encoding": {"x": {"field": "hour", "type": "quantitative", "scale": {"domain": [0, 23], "nice": false}, "axis": {"values": [0, 6, 12, 18, 23], "grid": true, "labelPadding": 8, "title": null}},
             "y": {"field": "value", "type": "quantitative", "scale": {"domain": [11.2, 77.04], "nice": false, "zero": false}, "axis": {"values": [20, 30, 40, 50, 60, 70], "grid": true, "labels": false, "ticks": false, "title": null}},
             "color": {"field": "series", "type": "nominal", "scale": {"domain": ["vento variabile", "venti da sud", "venti da nord"], "range": ["#0000FF", "#00FF00", "#A020F0"]}, "legend": null}}},
          {"data": {"values": [{"day": "domenica"}]}, "mark": {"type": "rect", "filled": false, "stroke": "#222", "strokeWidth": 1},
           "encoding": {"x": {"datum": 0, "type": "quantitative", "scale": {"domain": [0, 23], "nice": false}, "axis": {"orient": "top", "offset": 17, "values": [0, 6, 12, 18, 23], "labels": false, "grid": false, "title": null}}, "x2": {"datum": 23},
             "y": {"datum": 77.04, "type": "quantitative", "scale": {"domain": [11.2, 77.04], "nice": false, "zero": false}, "axis": {"orient": "right", "values": [20, 30, 40, 50, 60, 70], "labels": false, "grid": false, "title": null}}, "y2": {"datum": 83.03}}},
          {"data": {"values": [{"day": "domenica"}]}, "mark": {"type": "text", "fontSize": 13, "color": "#222", "baseline": "middle", "align": "center"},
           "encoding": {"y": {"datum": 80.03, "type": "quantitative", "axis": null}, "text": {"field": "day", "type": "nominal"}}}
        ]}
      ],
      "spacing": 0,
      "bounds": "flush",
      "resolve": {"legend": {"color": "independent"}}
    },
    {
      "hconcat": [
        {"width": 302, "height": 279, "resolve": {"axis": {"x": "independent", "y": "independent"}}, "layer": [
          {"data": {"name": "hour"}, "transform": [{"filter": {"field": "series", "oneOf": ["vento variabile", "venti da sud"]}}], "mark": {"type": "line", "strokeWidth": 1.8},
           "encoding": {"x": {"field": "hour", "type": "quantitative", "scale": {"domain": [0, 23], "nice": false}, "axis": {"values": [0, 6, 12, 18, 23], "grid": true, "labelPadding": 8, "title": "hour", "titlePadding": 17}},
             "y": {"field": "value", "type": "quantitative", "scale": {"domain": [12.43, 27.68], "nice": false, "zero": false}, "axis": {"values": [15, 20, 25], "grid": true, "labelPadding": 8, "title": "SO₂_Serravalle_MM", "titlePadding": 23}},
             "color": {"field": "series", "type": "nominal", "scale": {"domain": ["vento variabile", "venti da sud", "venti da nord"], "range": ["#0000FF", "#00FF00", "#A020F0"]}, "legend": null}}},
          {"data": {"name": "hour"}, "transform": [{"filter": {"field": "series", "equal": "venti da nord"}}], "mark": {"type": "line", "strokeWidth": 1.8},
           "encoding": {"x": {"field": "hour", "type": "quantitative", "scale": {"domain": [0, 23], "nice": false}, "axis": {"orient": "top", "values": [0, 6, 12, 18, 23], "labels": false, "grid": false, "title": null}},
             "y": {"field": "value", "type": "quantitative", "scale": {"domain": [12.43, 27.68], "nice": false, "zero": false}, "axis": {"orient": "right", "values": [15, 20, 25], "labels": false, "grid": false, "title": null}},
             "color": {"field": "series", "type": "nominal", "scale": {"domain": ["vento variabile", "venti da sud", "venti da nord"], "range": ["#0000FF", "#00FF00", "#A020F0"]}, "legend": null}}}
        ]},
        {"width": 303, "height": 279, "resolve": {"axis": {"x": "independent", "y": "independent"}},
         "title": {"text": "mean and 95% confidence interval in mean", "orient": "bottom", "fontSize": 16, "fontWeight": "normal", "color": "#222", "offset": 10},
         "layer": [
          {"data": {"name": "month"}, "mark": {"type": "point", "filled": true, "size": 22, "opacity": 1},
           "encoding": {"x": {"field": "month", "type": "quantitative", "scale": {"domain": [0.5, 12.5], "nice": false}, "axis": {"values": [1, 2, 3, 4, 5, 6, 7, 8, 9, 10, 11, 12], "labelExpr": "['g','f','m','a','m','g','l','a','s','o','n','d'][datum.value - 1]", "grid": true, "labelPadding": 8, "title": "month", "titlePadding": 17}},
             "y": {"field": "value", "type": "quantitative", "scale": {"domain": [14.15, 22.72], "nice": false, "zero": false}, "axis": {"values": [16, 18, 20, 22], "grid": true, "labelPadding": 8, "title": "SO₂_Serravalle_MM", "titlePadding": 20}},
             "color": {"field": "series", "type": "nominal", "scale": {"domain": ["vento variabile", "venti da sud", "venti da nord"], "range": ["#0000FF", "#00FF00", "#A020F0"]},
               "legend": {"orient": "none", "legendX": -151, "legendY": -76, "direction": "horizontal", "title": null, "symbolType": "M-1,-0.375H1V0.375H-1Z", "symbolSize": 2304, "symbolStrokeWidth": 0, "symbolOpacity": 1, "labelFontSize": 16, "labelFont": "Liberation Sans", "labelColor": "#222", "labelOffset": 20, "columnPadding": 60, "padding": 0}}}},
          {"data": {"name": "month"}, "mark": {"type": "rule", "strokeWidth": 1.5},
           "encoding": {"x": {"field": "month", "type": "quantitative", "scale": {"domain": [0.5, 12.5], "nice": false}, "axis": {"orient": "top", "values": [1, 2, 3, 4, 5, 6, 7, 8, 9, 10, 11, 12], "labels": false, "grid": false, "title": null}},
             "y": {"field": "lower", "type": "quantitative", "scale": {"domain": [14.15, 22.72], "nice": false, "zero": false}, "axis": {"orient": "right", "values": [16, 18, 20, 22], "labels": false, "grid": false, "title": null}},
             "y2": {"field": "upper"},
             "color": {"field": "series", "type": "nominal", "scale": {"domain": ["vento variabile", "venti da sud", "venti da nord"], "range": ["#0000FF", "#00FF00", "#A020F0"]}, "legend": null}}}
        ]},
        {"width": 315, "height": 279, "resolve": {"axis": {"x": "independent", "y": "independent"}}, "layer": [
          {"data": {"name": "weekday"}, "transform": [{"filter": {"field": "series", "oneOf": ["vento variabile", "venti da sud"]}}], "mark": {"type": "line", "strokeWidth": 1.8},
           "encoding": {"x": {"field": "weekday", "type": "ordinal", "sort": ["lun", "mar", "mer", "gio", "ven", "sab", "dom"], "scale": {"type": "point", "domain": ["lun", "mar", "mer", "gio", "ven", "sab", "dom"], "padding": 0.436}, "axis": {"grid": true, "labelAngle": 0, "labelPadding": 8, "title": "weekday", "titlePadding": 17}},
             "y": {"field": "value", "type": "quantitative", "scale": {"domain": [12.7, 29.55], "nice": false, "zero": false}, "axis": {"values": [15, 20, 25], "grid": true, "labelPadding": 8, "title": "SO₂_Serravalle_MM", "titlePadding": 16}},
             "color": {"field": "series", "type": "nominal", "scale": {"domain": ["vento variabile", "venti da sud", "venti da nord"], "range": ["#0000FF", "#00FF00", "#A020F0"]}, "legend": null}}},
          {"data": {"name": "weekday"}, "transform": [{"filter": {"field": "series", "equal": "venti da nord"}}], "mark": {"type": "line", "strokeWidth": 1.8},
           "encoding": {"x": {"field": "weekday", "type": "ordinal", "sort": ["lun", "mar", "mer", "gio", "ven", "sab", "dom"], "scale": {"type": "point", "domain": ["lun", "mar", "mer", "gio", "ven", "sab", "dom"], "padding": 0.436}, "axis": {"orient": "top", "labels": false, "grid": false, "title": null}},
             "y": {"field": "value", "type": "quantitative", "scale": {"domain": [12.7, 29.55], "nice": false, "zero": false}, "axis": {"orient": "right", "values": [15, 20, 25], "labels": false, "grid": false, "title": null}},
             "color": {"field": "series", "type": "nominal", "scale": {"domain": ["vento variabile", "venti da sud", "venti da nord"], "range": ["#0000FF", "#00FF00", "#A020F0"]}, "legend": null}}}
        ]}
      ],
      "spacing": 116.5,
      "bounds": "flush",
      "resolve": {"legend": {"color": "independent"}}
    }
  ]
}
